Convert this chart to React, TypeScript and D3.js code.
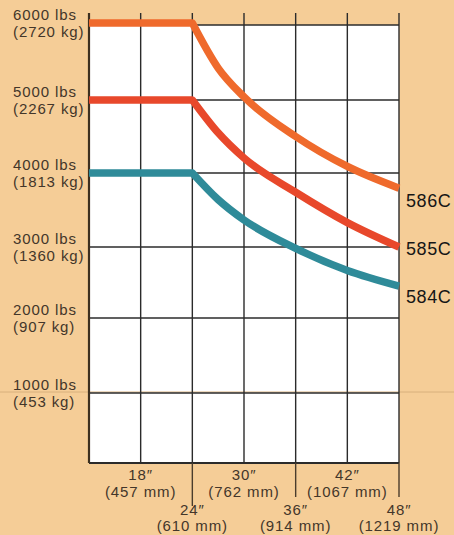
import * as d3 from "d3";
import { useEffect, useRef } from "react";

// load center (inches) and rated capacity (lbs)
const loadCenters = [12, 18, 24, 27, 30, 36, 42, 48];
const cap586C = [6000, 6000, 6000, 5415, 5040, 4500, 4090, 3795];
const cap585C = [5000, 5000, 5000, 4550, 4205, 3740, 3330, 3000];
const cap584C = [4000, 4000, 4000, 3640, 3365, 2980, 2670, 2450];
const seriesNames = ["586C", "585C", "584C"];

const gridInches = [12, 18, 24, 30, 36, 42, 48];
const yTickLbs = [1000, 2000, 3000, 4000, 5000, 6000];
const yTickKg = [453, 907, 1360, 1813, 2267, 2720];
const xTickInches = [18, 24, 30, 36, 42, 48];
const xTickMm = [457, 610, 762, 914, 1067, 1219];

function App() {
  const ref = useRef(null);

  useEffect(() => {
    const W = 454,
      H = 535;
    const plot = { left: 89, right: 399, bottom: 463 };

    const svg = d3.select(ref.current);
    svg.selectAll("*").remove();

    const x = d3.scaleLinear().domain([12, 48]).range([plot.left, plot.right]);
    // the printed grid is not quite even, so map each 1000 lbs step
    const y = d3
      .scaleLinear()
      .domain([0, 1000, 2000, 3000, 4000, 5000, 6000])
      .range([463, 393, 318, 247, 173, 100, 23]);
    const frameTop = y(6000) + 2;

    const font = "'Liberation Sans', Arial, Helvetica, sans-serif";
    const labelColor = "#43362a";

    // paper background
    svg.append("rect").attr("width", W).attr("height", H).attr("fill", "#f5cd97");

    // white plot area
    svg
      .append("rect")
      .attr("x", plot.left)
      .attr("y", frameTop)
      .attr("width", plot.right - plot.left)
      .attr("height", plot.bottom - frameTop)
      .attr("fill", "#ffffff");

    // faint crease across the page at 1000 lbs
    svg
      .append("line")
      .attr("x1", 0)
      .attr("x2", W)
      .attr("y1", y(1000) - 1)
      .attr("y2", y(1000) - 1)
      .attr("stroke", "#d8b07c")
      .attr("stroke-width", 1);

    // horizontal grid
    svg
      .append("g")
      .selectAll("line")
      .data([0, ...yTickLbs])
      .join("line")
      .attr("x1", plot.left)
      .attr("x2", plot.right)
      .attr("y1", (d) => (d === 6000 ? frameTop : y(d)))
      .attr("y2", (d) => (d === 6000 ? frameTop : y(d)))
      .attr("stroke", "#2b2b2b")
      .attr("stroke-width", (d) => (d === 0 ? 2 : 1.4));

    // vertical grid, poking out above the top
    svg
      .append("g")
      .selectAll("line")
      .data(gridInches)
      .join("line")
      .attr("x1", (d) => x(d))
      .attr("x2", (d) => x(d))
      .attr("y1", 13)
      .attr("y2", plot.bottom)
      .attr("stroke", (d) => (d === 12 ? "#3d3020" : "#2b2b2b"))
      .attr("stroke-width", (d) => (d === 12 ? 2.2 : 1.4));

    // long ticks under the axis at 24, 36, 48
    svg
      .append("g")
      .selectAll("line")
      .data(xTickInches.filter((d, i) => i % 2 === 1))
      .join("line")
      .attr("x1", (d) => x(d))
      .attr("x2", (d) => x(d))
      .attr("y1", plot.bottom)
      .attr("y2", (d) => (d === 24 ? 506 : 497))
      .attr("stroke", "#4a3c2c")
      .attr("stroke-width", 1.4);

    // y labels
    const yl = svg
      .append("g")
      .selectAll("g")
      .data(yTickLbs)
      .join("g")
      .attr("font-family", font)
      .attr("font-size", 15)
      .attr("fill", labelColor)
      .style("letter-spacing", "0.9px");
    yl.append("text")
      .attr("x", 13)
      .attr("y", (d) => y(d) - 3)
      .text((d) => `${d} lbs`);
    yl.append("text")
      .attr("x", 13)
      .attr("y", (d) => y(d) + 14)
      .text((d, i) => `(${yTickKg[i]} kg)`);

    // x labels, alternating rows
    const xl = svg
      .append("g")
      .selectAll("g")
      .data(xTickInches)
      .join("g")
      .attr("font-family", font)
      .attr("font-size", 15)
      .attr("fill", labelColor)
      .attr("text-anchor", "middle")
      .style("letter-spacing", "0.9px");
    xl.append("text")
      .attr("x", (d) => x(d))
      .attr("y", (d, i) => (i % 2 === 0 ? 480 : 515))
      .text((d) => `${d}″`);
    xl.append("text")
      .attr("x", (d) => x(d))
      .attr("y", (d, i) => (i % 2 === 0 ? 497 : 531))
      .text((d, i) => `(${xTickMm[i]} mm)`);

    // capacity curves: flat up to 24", then a smooth fall-off
    const series = [cap586C, cap585C, cap584C];
    const colors = ["#ef6a2c", "#e8482b", "#2f8b99"];
    const labelDy = [19, 8, 17];
    const flatLine = d3
      .line<number>()
      .x((d, i) => x(loadCenters[i]))
      .y((d) => y(d));
    const curveLine = d3
      .line<[number, number]>()
      .x((d) => x(d[0]))
      .y((d) => y(d[1]))
      .curve(d3.curveMonotoneX);

    series.forEach((vals, si) => {
      const k = loadCenters.indexOf(24);
      const flat = flatLine(vals.slice(0, k + 1));
      const pts = loadCenters.slice(k).map((c, i) => [c, vals[k + i]] as [number, number]);
      const curved = curveLine(pts).replace(/^M/, "L");
      svg
        .append("path")
        .attr("d", flat + curved)
        .attr("fill", "none")
        .attr("stroke", colors[si])
        .attr("stroke-width", 7.5)
        .attr("stroke-linejoin", "round");

      svg
        .append("text")
        .attr("x", 406)
        .attr("y", y(vals[vals.length - 1]) + labelDy[si])
        .attr("font-family", font)
        .attr("font-size", 18)
        .attr("fill", "#161616")
        .style("letter-spacing", "0.6px")
        .text(seriesNames[si]);
    });
  }, []);

  return (
    <svg
      ref={ref}
      width={454}
      height={535}
      style={{ position: "absolute", left: 0, top: 0, display: "block" }}
    />
  );
}

export default App;
